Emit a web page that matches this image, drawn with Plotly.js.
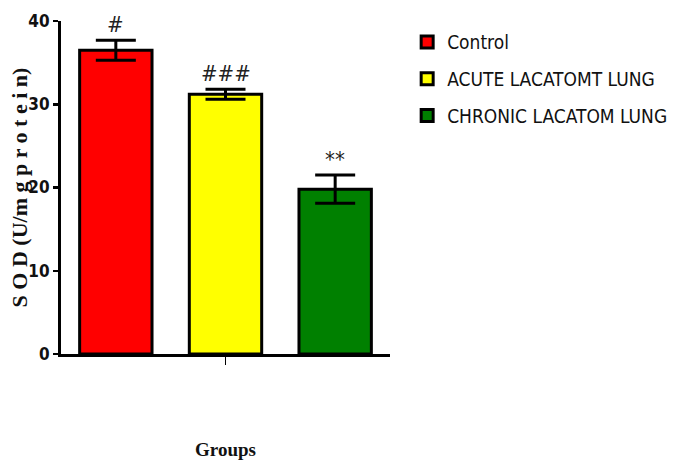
<!DOCTYPE html>
<html>
<head>
<meta charset="utf-8">
<script src="https://cdn.plot.ly/plotly-3.0.1.min.js"></script>
<style>html,body{margin:0;padding:0;background:#fff;}#chart{width:673px;height:463px;}</style>
</head>
<body>
<div id="chart"></div>
<script>
// Data
const groups = ["Control", "ACUTE LACATOMT LUNG", "CHRONIC LACATOM LUNG"];
const sodMean = [36.5, 31.2, 19.8];
const sodErr = [1.2, 0.6, 1.7];
const sigLabels = ["#", "###", "**"];
const tickLabels = ["0", "10", "20", "30", "40"];
const tickValues = [0, 10, 20, 30, 40];
const yTitle = "S O D (U/m g p r o t e i n)";

const barColors = ["#ff0000", "#ffff00", "#008000"];
const narrow = "DejaVu Sans Condensed, Liberation Sans Narrow, Liberation Sans, Arial";

const traces = groups.map((g, i) => ({
  type: "bar",
  name: g,
  x: [i],
  y: [sodMean[i]],
  width: 0.66,
  legendgroup: "g" + i,
  marker: { color: barColors[i], line: { color: "#000", width: 3 } },
  error_y: { type: "data", array: [sodErr[i]], visible: true, color: "#000", thickness: 3, width: 20 },
  hoverinfo: "skip"
}));

const annotations = groups.map((g, i) => ({
  x: i, y: sodMean[i] + sodErr[i],
  xref: "x", yref: "y",
  text: sigLabels[i],
  showarrow: false,
  yanchor: "bottom",
  yshift: 1,
  font: { family: narrow, size: 22, color: "#222" }
}));

annotations.push({
  xref: "paper", yref: "paper",
  x: -0.125, y: 0.5, xanchor: "center", yanchor: "middle",
  textangle: -90,
  text: "<b>" + yTitle + "</b>",
  showarrow: false,
  font: { family: "Liberation Serif, Times New Roman, serif", size: 22, color: "#111" }
});

const layout = {
  width: 673, height: 463,
  margin: { l: 61, r: 283, t: 21, b: 109 },
  paper_bgcolor: "#fff", plot_bgcolor: "#fff",
  barmode: "overlay",
  showlegend: true,
  legend: {
    xref: "container", yref: "container",
    x: 0.605, y: 0.95, xanchor: "left", yanchor: "top",
    font: { family: narrow, size: 19, color: "#111" },
    tracegroupgap: 9,
    traceorder: "grouped",
    itemclick: false
  },
  xaxis: {
    range: [-0.5, 2.5],
    showline: true, linecolor: "#000", linewidth: 3,
    showgrid: false, zeroline: false,
    tickmode: "array", tickvals: [1], ticktext: [""],
    ticks: "outside", ticklen: 8, tickwidth: 1.5, tickcolor: "#000",
    title: { text: "<b>Groups</b>", standoff: 77, font: { family: "Liberation Serif, Times New Roman, serif", size: 19, color: "#111" } },
    automargin: false,
    fixedrange: true
  },
  yaxis: {
    range: [0, 40],
    showline: true, linecolor: "#000", linewidth: 3,
    showgrid: false, zeroline: false,
    tickmode: "array", tickvals: tickValues, ticktext: tickLabels,
    ticks: "outside", ticklen: 5, tickwidth: 2.5, tickcolor: "#000",
    tickfont: { family: narrow, size: 17, color: "#111", weight: "bold" },
    automargin: false,
    fixedrange: true
  },
  annotations: annotations
};

Plotly.newPlot("chart", traces, layout, { displayModeBar: false, staticPlot: true });
</script>
</body>
</html>
